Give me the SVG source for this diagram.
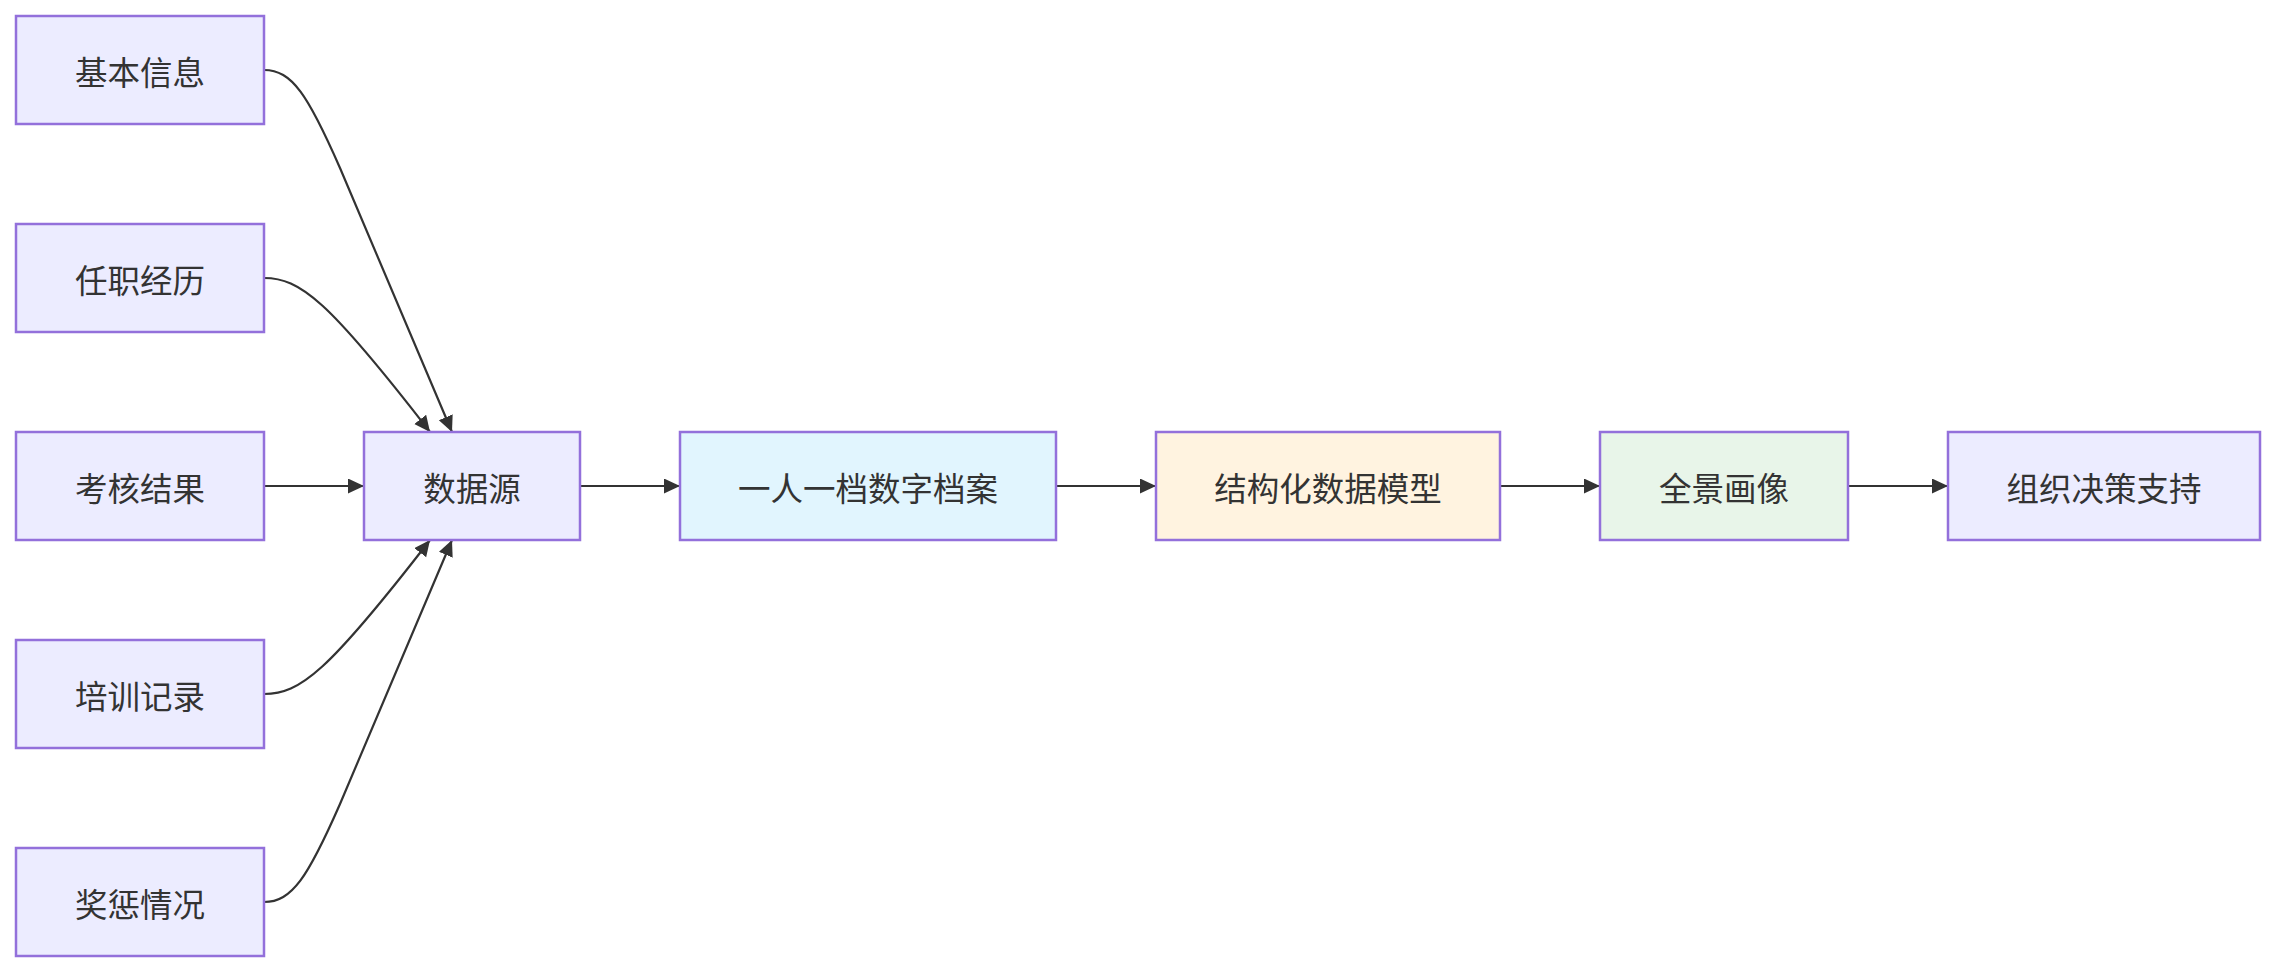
<svg xmlns="http://www.w3.org/2000/svg" width="2276" height="972" viewBox="0 0 2276 972">
<style>
.node rect{fill:#ECECFF;stroke:#9370DB;stroke-width:2.5}
.node text{font-family:"Noto Sans CJK SC","Microsoft YaHei",sans-serif;font-size:32.5px;fill:#333;text-anchor:middle;dominant-baseline:central}
.edge{fill:none;stroke:#333;stroke-width:2.2}
</style>
<defs>
<marker id="arrow" markerUnits="userSpaceOnUse" markerWidth="17" markerHeight="16" refX="16" refY="7.5" orient="auto">
<path d="M0,0 L16,7.5 L0,15 z" fill="#333"/>
</marker>
</defs>
<rect width="2276" height="972" fill="#fff"/>
<g id="connectors">
<path class="edge" marker-end="url(#arrow)" d="M264,70 C292,70 308,95 340,168 L452,432"/>
<path class="edge" marker-end="url(#arrow)" d="M264,278 C300,278 328,300 430,432"/>
<path class="edge" marker-end="url(#arrow)" d="M264,486 L364,486"/>
<path class="edge" marker-end="url(#arrow)" d="M264,694 C300,694 328,672 430,540"/>
<path class="edge" marker-end="url(#arrow)" d="M264,902 C292,902 308,877 340,804 L452,540"/>
<path class="edge" marker-end="url(#arrow)" d="M580,486 L680,486"/>
<path class="edge" marker-end="url(#arrow)" d="M1056,486 L1156,486"/>
<path class="edge" marker-end="url(#arrow)" d="M1500,486 L1600,486"/>
<path class="edge" marker-end="url(#arrow)" d="M1848,486 L1948,486"/>
</g>
<g id="n_basic" class="node"><rect x="16" y="16" width="248" height="108"/><text x="140" y="70">基本信息</text></g>
<g id="n_career" class="node"><rect x="16" y="224" width="248" height="108"/><text x="140" y="278">任职经历</text></g>
<g id="n_assess" class="node"><rect x="16" y="432" width="248" height="108"/><text x="140" y="486">考核结果</text></g>
<g id="n_training" class="node"><rect x="16" y="640" width="248" height="108"/><text x="140" y="694">培训记录</text></g>
<g id="n_reward" class="node"><rect x="16" y="848" width="248" height="108"/><text x="140" y="902">奖惩情况</text></g>
<g id="n_source" class="node"><rect x="364" y="432" width="216" height="108"/><text x="472" y="486">数据源</text></g>
<g id="n_archive" class="node"><rect x="680" y="432" width="376" height="108" style="fill:#E1F5FE"/><text x="868" y="486">一人一档数字档案</text></g>
<g id="n_model" class="node"><rect x="1156" y="432" width="344" height="108" style="fill:#FFF3E0"/><text x="1328" y="486">结构化数据模型</text></g>
<g id="n_portrait" class="node"><rect x="1600" y="432" width="248" height="108" style="fill:#E8F5E9"/><text x="1724" y="486">全景画像</text></g>
<g id="n_decision" class="node"><rect x="1948" y="432" width="312" height="108"/><text x="2104" y="486">组织决策支持</text></g>
</svg>
